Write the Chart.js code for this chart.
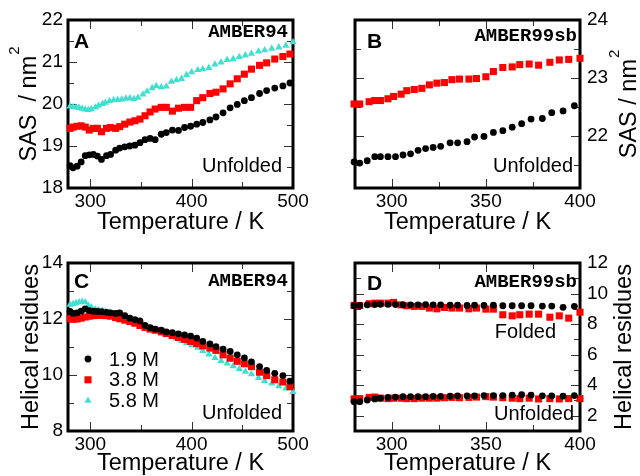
<!DOCTYPE html>
<html>
<head>
<meta charset="utf-8">
<script src="https://cdn.jsdelivr.net/npm/chart.js"></script>
<style>
  html, body { margin: 0; padding: 0; background: #fff; }
  #wrap { position: relative; width: 640px; height: 476px; }
  #wrap canvas { position: absolute; }
</style>
</head>
<body>
<div id="wrap">
  <canvas id="cA" width="320" height="238" style="left:0;top:0"></canvas>
  <canvas id="cB" width="320" height="238" style="left:320px;top:0"></canvas>
  <canvas id="cC" width="320" height="238" style="left:0;top:238px"></canvas>
  <canvas id="cD" width="320" height="238" style="left:320px;top:238px"></canvas>
</div>
<script>
// ---- data ----
// panel A / C temperatures (K)
const tempA = [280, 283, 287, 291, 295, 299, 303, 307, 311, 316, 320, 325, 329, 334, 339, 344, 349, 354, 359, 364,
               370, 375, 381, 387, 393, 399, 405, 411, 418, 424, 431, 438, 445, 452, 459, 467, 474, 482, 490, 497];
const tempA58 = [280, 283, 286, 289, 292, 295, 298, 301, 305, 308, 312, 315, 319, 323, 327, 331, 335, 339, 343, 347,
                 352, 356, 361, 365, 370, 375, 380, 385, 390, 395, 400, 406, 411, 417, 423, 429, 435, 441, 447, 453,
                 459, 466, 472, 479, 486, 493, 500];

// A: SAS (nm^2), AMBER94
const sasA19 = [18.53, 18.48, 18.52, 18.62, 18.77, 18.79, 18.8, 18.76, 18.68, 18.77, 18.8, 18.9, 18.95, 18.98, 19.0, 19.02, 19.08, 19.15, 19.18, 19.15,
                19.28, 19.32, 19.38, 19.37, 19.44, 19.47, 19.52, 19.56, 19.62, 19.69, 19.79, 19.91, 19.99, 20.08, 20.15, 20.25, 20.32, 20.38, 20.43, 20.5];
const sasA38 = [19.42, 19.45, 19.47, 19.48, 19.45, 19.38, 19.42, 19.42, 19.34, 19.42, 19.44, 19.42, 19.46, 19.52, 19.57, 19.6, 19.64, 19.72, 19.81, 19.88,
                19.92, 19.92, 19.83, 19.9, 19.92, 19.92, 20.08, 20.15, 20.25, 20.28, 20.36, 20.48, 20.6, 20.71, 20.83, 20.92, 20.98, 21.07, 21.13, 21.19];
const sasA58 = [19.94, 19.93, 19.92, 19.91, 19.89, 19.87, 19.86, 19.88, 19.92, 19.96, 20.0, 20.03, 20.07, 20.09, 20.1, 20.11, 20.13, 20.14, 20.12, 20.15,
                20.23, 20.3, 20.38, 20.43, 20.4, 20.42, 20.53, 20.57, 20.6, 20.69, 20.76, 20.81, 20.83, 20.86, 20.94, 20.99, 21.05, 21.07, 21.12, 21.16,
                21.2, 21.25, 21.28, 21.32, 21.35, 21.39, 21.47];

// C: helical residues, AMBER94
const helC19 = [12.27, 12.2, 12.22, 12.28, 12.36, 12.3, 12.28, 12.27, 12.26, 12.24, 12.22, 12.2, 12.22, 12.12, 12.03, 11.98, 11.93, 11.77, 11.69, 11.64,
                11.6, 11.54, 11.51, 11.47, 11.43, 11.39, 11.32, 11.2, 11.11, 11.01, 10.92, 10.84, 10.72, 10.61, 10.47, 10.3, 10.16, 10.06, 9.98, 9.78];
const helC38 = [12.01, 11.99, 12.0, 12.03, 12.07, 12.1, 12.12, 12.13, 12.13, 12.12, 12.1, 12.05, 12.01, 11.96, 11.91, 11.85, 11.77, 11.7, 11.64, 11.6,
                11.54, 11.48, 11.41, 11.34, 11.27, 11.2, 11.12, 11.04, 10.96, 10.88, 10.72, 10.6, 10.49, 10.4, 10.3, 10.1, 9.98, 9.83, 9.75, 9.58];
const helC58 = [12.51, 12.54, 12.57, 12.6, 12.62, 12.6, 12.48, 12.42, 12.35, 12.32, 12.3, 12.27, 12.23, 12.18, 12.12, 12.06, 12.02, 11.96, 11.91, 11.84,
                11.77, 11.72, 11.65, 11.59, 11.52, 11.45, 11.37, 11.3, 11.22, 11.14, 11.07, 10.98, 10.86, 10.74, 10.61, 10.5, 10.41, 10.32, 10.22, 10.12,
                10.03, 9.9, 9.79, 9.7, 9.6, 9.52, 9.4];

// panel B / D temperatures (K)
const tempB19 = [280, 283, 287, 291, 294, 298, 302, 306, 310, 314, 318, 322, 326, 331, 335, 340, 344, 349, 354, 359, 364, 369, 374, 380, 385, 391, 397];
const tempB38 = [280, 283, 288, 291, 294, 298, 301, 305, 308, 312, 316, 320, 324, 328, 332, 336, 341, 345, 350, 354, 359, 364, 368, 373, 378, 384, 389, 394, 400];

// B: SAS (nm^2), AMBER99sb
const sasB19 = [21.55, 21.53, 21.57, 21.64, 21.64, 21.64, 21.64, 21.67, 21.69, 21.75, 21.78, 21.8, 21.82, 21.88, 21.88, 21.9, 21.98, 21.99, 22.06, 22.09,
                22.15, 22.21, 22.29, 22.3, 22.4, 22.43, 22.52];
const sasB38 = [22.55, 22.55, 22.59, 22.61, 22.61, 22.64, 22.68, 22.72, 22.78, 22.8, 22.82, 22.88, 22.91, 22.92, 22.97, 22.98, 22.98, 22.99, 23.02, 23.11,
                23.18, 23.19, 23.23, 23.24, 23.22, 23.27, 23.31, 23.32, 23.34];

// D: helical residues, AMBER99sb (folded and unfolded starts)
const helD19fold = [9.2, 9.22, 9.26, 9.28, 9.3, 9.3, 9.28, 9.26, 9.26, 9.26, 9.28, 9.26, 9.26, 9.24, 9.24, 9.22, 9.24, 9.22, 9.24, 9.2,
                    9.2, 9.2, 9.2, 9.18, 9.18, 9.1, 9.16];
const helD38fold = [9.22, 9.22, 9.33, 9.37, 9.37, 9.37, 9.42, 9.26, 9.2, 9.16, 9.16, 9.05, 9.0, 9.09, 9.05, 9.05, 9.0, 9.05, 8.98, 8.98,
                    8.61, 8.54, 8.61, 8.65, 8.65, 8.45, 8.54, 8.39, 8.78];
const helD19unf = [2.92, 2.92, 3.03, 3.1, 3.15, 3.2, 3.22, 3.25, 3.25, 3.25, 3.25, 3.27, 3.27, 3.28, 3.3, 3.3, 3.3, 3.32, 3.32, 3.32,
                   3.35, 3.38, 3.35, 3.3, 3.3, 3.28, 3.32];
const helD38unf = [3.1, 3.12, 3.2, 3.22, 3.15, 3.12, 3.15, 3.15, 3.12, 3.12, 3.15, 3.15, 3.15, 3.18, 3.2, 3.18, 3.2, 3.22, 3.25, 3.22,
                   3.18, 3.15, 3.12, 3.15, 3.1, 3.12, 3.1, 3.12, 3.12];

// ticks and labels
const xTicksWide = [300, 350, 400, 450, 500];
const xLabelsWide = [300, 400, 500];
const xTicksNarrow = [300, 325, 350, 375, 400];
const xLabelsNarrow = [300, 350, 400];
const yTicksA = [18, 18.5, 19, 19.5, 20, 20.5, 21, 21.5, 22];
const yLabelsA = [18, 19, 20, 21, 22];
const yTicksB = [21.5, 22, 22.5, 23, 23.5, 24];
const yLabelsB = [22, 23, 24];
const yTicksC = [8, 9, 10, 11, 12, 13, 14];
const yLabelsC = [8, 10, 12, 14];
const yTicksD = [2, 3, 4, 5, 6, 7, 8, 9, 10, 11, 12];
const yLabelsD = [2, 4, 6, 8, 10, 12];

const conc = ['1.9 M', '3.8 M', '5.8 M'];

// ---- styling ----
const FONT = '"Liberation Sans", Arial, Helvetica, sans-serif';
const MONO = '"Courier New", "Liberation Mono", monospace';
const BLACK = '#000000', RED = '#ff0000', CYAN = '#40e0d0';
Chart.defaults.font.family = FONT;
Chart.defaults.color = '#000';

function series(label, xs, ys, color, shape) {
  const r = shape === 'circle' ? 3.4 : (shape === 'rect' ? 5 : 4.2);
  return {
    label: label,
    data: xs.map((x, i) => ({x: x, y: ys[i]})),
    pointStyle: shape, pointRadius: r, pointHoverRadius: r,
    pointBackgroundColor: color, pointBorderColor: color, pointBorderWidth: 0,
    showLine: false, clip: false
  };
}

function axis(pos, min, max, ticks, labels, size, pad) {
  return {
    type: 'linear', position: pos, min: min, max: max, bounds: 'data',
    grid: {display: false, drawTicks: false},
    border: {display: false},
    afterBuildTicks: s => { s.ticks = ticks.map(v => ({value: v})); },
    afterFit: s => { if (s.isHorizontal()) s.height = size; else s.width = size; },
    ticks: {autoSkip: false, maxRotation: 0, padding: pad, font: {size: 19},
            callback: v => labels.includes(v) ? String(v) : ''}
  };
}

function drawPointShape(ctx, style, r, x, y) {
  if (Chart.helpers && Chart.helpers.drawPoint) {
    Chart.helpers.drawPoint(ctx, {pointStyle: style, radius: r, rotation: 0, borderWidth: 0}, x, y);
    return;
  }
  ctx.beginPath();
  if (style === 'circle') ctx.arc(x, y, r, 0, Math.PI * 2);
  else if (style === 'rect') { const s = r * Math.SQRT1_2; ctx.rect(x - s, y - s, 2 * s, 2 * s); }
  else { ctx.moveTo(x, y - r); ctx.lineTo(x + r * 0.866, y + r / 2); ctx.lineTo(x - r * 0.866, y + r / 2); ctx.closePath(); }
  ctx.fill();
}

// frame, inward ticks, panel texts, rotated y title and legend
function decor(cfg) {
  return {
    id: 'decor',
    beforeDatasetsDraw(chart) {
      const {ctx, chartArea: a, scales: {x, y}} = chart;
      ctx.save();
      ctx.strokeStyle = '#333';
      ctx.lineWidth = 1;
      ctx.beginPath();
      x.ticks.forEach(t => {
        const len = cfg.xLabels.includes(t.value) ? 9 : 6;
        const px = Math.round(x.getPixelForValue(t.value)) + 0.5;
        ctx.moveTo(px, a.bottom); ctx.lineTo(px, a.bottom - len);
        ctx.moveTo(px, a.top); ctx.lineTo(px, a.top + len);
      });
      y.ticks.forEach(t => {
        const len = cfg.yLabels.includes(t.value) ? 9 : 6;
        const py = Math.round(y.getPixelForValue(t.value)) + 0.5;
        ctx.moveTo(a.left, py); ctx.lineTo(a.left + len, py);
        ctx.moveTo(a.right, py); ctx.lineTo(a.right - len, py);
      });
      ctx.stroke();
      ctx.lineWidth = 3;
      ctx.strokeStyle = '#000';
      ctx.strokeRect(a.left, a.top, a.right - a.left, a.bottom - a.top);
      ctx.restore();
    },
    afterDatasetsDraw(chart) {
      const {ctx, chartArea: a} = chart;
      ctx.save();
      ctx.fillStyle = '#000';
      ctx.textBaseline = 'alphabetic';
      cfg.notes.forEach(n => {
        ctx.font = n.f;
        ctx.textAlign = n.ax;
        ctx.fillText(n.t, a[n.ax] + n.dx, a[n.ay] + n.dy);
      });

      // y title, rotated to read bottom-up
      const t = cfg.yTitle;
      ctx.font = '23.5px ' + FONT;
      const w1 = ctx.measureText(t.text).width;
      let w2 = 0;
      if (t.sup) { ctx.font = '15px ' + FONT; w2 = ctx.measureText(t.sup).width + 1; }
      ctx.save();
      ctx.translate(t.x, (a.top + a.bottom) / 2 + (w1 + w2) / 2);
      ctx.rotate(-Math.PI / 2);
      ctx.textAlign = 'left';
      ctx.font = '23.5px ' + FONT;
      ctx.fillText(t.text, 0, 0);
      if (t.sup) { ctx.font = '15px ' + FONT; ctx.fillText(t.sup, w1 + 1, -17); }
      ctx.restore();

      if (cfg.legend) {
        const L = cfg.legend;
        chart.data.datasets.forEach((d, i) => {
          const yy = a.top + L.dy + i * L.step;
          ctx.fillStyle = d.pointBackgroundColor;
          drawPointShape(ctx, d.pointStyle, d.pointRadius, a.left + L.dx, yy);
          ctx.fillStyle = '#000';
          ctx.font = '20px ' + FONT;
          ctx.textAlign = 'left';
          ctx.textBaseline = 'middle';
          ctx.fillText(d.label, a.left + L.tx, yy + 1);
        });
      }
      ctx.restore();
    }
  };
}

function makePanel(p) {
  return new Chart(document.getElementById(p.id), {
    type: 'scatter',
    data: {datasets: p.datasets},
    options: {
      responsive: false, animation: false, devicePixelRatio: 1,
      layout: {padding: p.pad},
      plugins: {legend: {display: false}, tooltip: {enabled: false}},
      scales: {
        x: Object.assign(axis('bottom', p.xmin, p.xmax, p.xTicks, p.xLabels, p.xFit, 2), {
          title: {display: true, text: 'Temperature / K', font: {size: 23.5, lineHeight: 1},
                  padding: {top: 0, bottom: p.xTitlePad}}
        }),
        y: axis(p.yPos, p.ymin, p.ymax, p.yTicks, p.yLabels, p.yFit, p.yPad)
      }
    },
    plugins: [decor(p)]
  });
}

const BOLD = 'bold 21px ' + FONT;
const MONOB = 'bold 19px ' + MONO;
const TXT = '20px ' + FONT;

makePanel({
  id: 'cA', pad: {top: 20, right: 27, left: 0, bottom: 0}, xFit: 50, yFit: 68, yPos: 'left', yPad: 5, xTitlePad: 4,
  xmin: 278, xmax: 500, xTicks: xTicksWide, xLabels: xLabelsWide,
  ymin: 18, ymax: 22, yTicks: yTicksA, yLabels: yLabelsA,
  datasets: [series(conc[0], tempA, sasA19, BLACK, 'circle'),
             series(conc[1], tempA, sasA38, RED, 'rect'),
             series(conc[2], tempA58, sasA58, CYAN, 'triangle')],
  yTitle: {text: 'SAS  / nm', sup: '2', x: 36},
  notes: [{t: 'A', f: BOLD, ax: 'left', dx: 6, ay: 'top', dy: 28},
          {t: 'AMBER94', f: MONOB, ax: 'right', dx: -5, ay: 'top', dy: 17},
          {t: 'Unfolded', f: TXT, ax: 'right', dx: -11, ay: 'bottom', dy: -16}]
});

makePanel({
  id: 'cB', pad: {top: 20, right: 0, left: 35, bottom: 0}, xFit: 50, yFit: 60, yPos: 'right', yPad: 7, xTitlePad: 4,
  xmin: 280.5, xmax: 400, xTicks: xTicksNarrow, xLabels: xLabelsNarrow,
  ymin: 21.1, ymax: 24, yTicks: yTicksB, yLabels: yLabelsB,
  datasets: [series(conc[0], tempB19, sasB19, BLACK, 'circle'),
             series(conc[1], tempB38, sasB38, RED, 'rect')],
  yTitle: {text: 'SAS / nm', sup: '2', x: 316},
  notes: [{t: 'B', f: BOLD, ax: 'left', dx: 12, ay: 'top', dy: 28},
          {t: 'AMBER99sb', f: MONOB, ax: 'right', dx: -3, ay: 'top', dy: 21},
          {t: 'Unfolded', f: TXT, ax: 'right', dx: -7, ay: 'bottom', dy: -16}]
});

makePanel({
  id: 'cC', pad: {top: 25, right: 27, left: 0, bottom: 0}, xFit: 45, yFit: 68, yPos: 'left', yPad: 5, xTitlePad: 1,
  xmin: 278, xmax: 500, xTicks: xTicksWide, xLabels: xLabelsWide,
  ymin: 8, ymax: 14, yTicks: yTicksC, yLabels: yLabelsC,
  datasets: [series(conc[0], tempA, helC19, BLACK, 'circle'),
             series(conc[1], tempA, helC38, RED, 'rect'),
             series(conc[2], tempA58, helC58, CYAN, 'triangle')],
  yTitle: {text: 'Helical residues', x: 38},
  legend: {dx: 20, tx: 41, dy: 96, step: 20.8},
  notes: [{t: 'C', f: BOLD, ax: 'left', dx: 6, ay: 'top', dy: 25},
          {t: 'AMBER94', f: MONOB, ax: 'right', dx: -5, ay: 'top', dy: 23},
          {t: 'Unfolded', f: TXT, ax: 'right', dx: -11, ay: 'bottom', dy: -12}]
});

makePanel({
  id: 'cD', pad: {top: 25, right: 0, left: 35, bottom: 0}, xFit: 45, yFit: 60, yPos: 'right', yPad: 7, xTitlePad: 1,
  xmin: 280.5, xmax: 400, xTicks: xTicksNarrow, xLabels: xLabelsNarrow,
  ymin: 1, ymax: 12, yTicks: yTicksD, yLabels: yLabelsD,
  datasets: [series(conc[0], tempB19, helD19fold, BLACK, 'circle'),
             series(conc[1], tempB38, helD38fold, RED, 'rect'),
             series(conc[0], tempB19, helD19unf, BLACK, 'circle'),
             series(conc[1], tempB38, helD38unf, RED, 'rect')],
  yTitle: {text: 'Helical residues', x: 311},
  notes: [{t: 'D', f: BOLD, ax: 'left', dx: 12, ay: 'top', dy: 27},
          {t: 'AMBER99sb', f: MONOB, ax: 'right', dx: -3, ay: 'top', dy: 24},
          {t: 'Folded', f: TXT, ax: 'right', dx: -24, ay: 'top', dy: 75},
          {t: 'Unfolded', f: TXT, ax: 'right', dx: -6, ay: 'bottom', dy: -11}]
});
</script>
</body>
</html>
